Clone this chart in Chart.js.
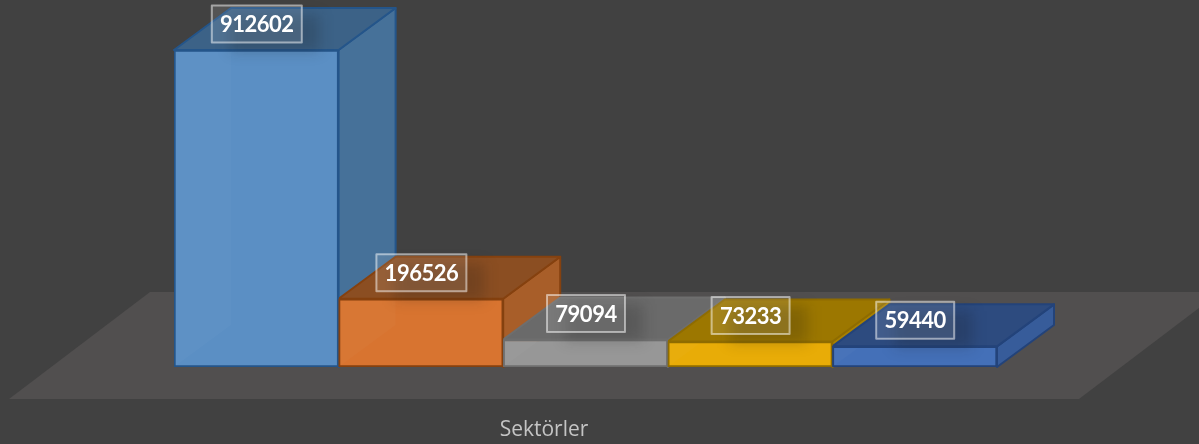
<!DOCTYPE html>
<html>
<head>
<meta charset="utf-8">
<title>Sektörler</title>
<script src="https://cdn.jsdelivr.net/npm/chart.js@4"></script>
<style>
  html, body { margin: 0; padding: 0; background: #414141; overflow: hidden; }
  canvas { display: block; }
</style>
</head>
<body>
<canvas id="chart" width="1199" height="444"></canvas>
<script>
// Data
const categories = ["1", "2", "3", "4", "5"];
const sectorValues = [912602, 196526, 79094, 73233, 59440];
const axisTitle = "Sektörler";

// Face colours per bar
const frontColors = ["#5B8FC4", "#D87430", "#979797", "#E8AC07", "#4470B8"];
const topColors = ["#3C6287", "#8B4E22", "#6A6A6A", "#9C7700", "#2D4B7F"];
const sideColors = ["#467199", "#A85E29", "#6A6A6A", "#A88000", "#375C9A"];
const edgeColors = ["#24558A", "#85410F", "#6E6E6E", "#8F6C00", "#23437A"];

// Oblique projection of the 3D look
const depthX = 57;
const depthY = 42;

function poly(ctx, pts, fill, stroke) {
  ctx.beginPath();
  pts.forEach((p, i) => (i ? ctx.lineTo(p[0], p[1]) : ctx.moveTo(p[0], p[1])));
  ctx.closePath();
  if (fill) {
    ctx.fillStyle = fill;
    ctx.fill();
  }
  if (stroke) {
    ctx.strokeStyle = stroke;
    ctx.lineWidth = 2;
    ctx.lineJoin = "round";
    ctx.stroke();
  }
}

const box3d = {
  id: "box3d",
  beforeDatasetsDraw(chart) {
    const ctx = chart.ctx;
    const { left, right, bottom } = chart.chartArea;
    // Floor plane, follows the plot area
    poly(ctx, [
      [left - 165, bottom + 32],
      [right + 82, bottom + 32],
      [right + 223, bottom - 75],
      [left - 24, bottom - 75],
    ], "#514F4F");
    // Axis title sits under the floor's front edge
    ctx.fillStyle = "#C4C4C4";
    ctx.font = "21px 'Open Sans'";
    ctx.textAlign = "center";
    ctx.textBaseline = "middle";
    ctx.fillText(axisTitle, (left - 165 + right + 82) / 2, bottom + 63);
    // Top and side faces
    chart.getDatasetMeta(0).data.forEach((bar, i) => {
      const l = bar.x - bar.width / 2;
      const r = bar.x + bar.width / 2;
      poly(ctx, [
        [r, bar.y],
        [r + depthX, bar.y - depthY],
        [r + depthX, bar.base - depthY],
        [r, bar.base],
      ], sideColors[i], edgeColors[i]);
      poly(ctx, [
        [l, bar.y],
        [l + depthX, bar.y - depthY],
        [r + depthX, bar.y - depthY],
        [r, bar.y],
      ], topColors[i], edgeColors[i]);
    });
  },
  afterDatasetsDraw(chart) {
    const ctx = chart.ctx;
    const bars = chart.getDatasetMeta(0).data;
    // Inner walls showing through the front face
    bars.forEach((bar) => {
      const l = bar.x - bar.width / 2;
      ctx.save();
      ctx.beginPath();
      ctx.rect(l + 2, bar.y + 2, bar.width - 4, bar.base - bar.y - 4);
      ctx.clip();
      poly(ctx, [
        [l, bar.base],
        [l + depthX, bar.base - depthY],
        [l + depthX, bar.y - depthY],
        [l, bar.y - depthY],
      ], "rgba(255,255,255,0.025)");
      ctx.restore();
    });
    // Value labels
    ctx.font = "bold 22px Lato";
    ctx.letterSpacing = "-0.5px";
    ctx.textAlign = "center";
    ctx.textBaseline = "middle";
    bars.forEach((bar, i) => {
      const text = String(sectorValues[i]);
      const w = text.length > 5 ? 90 : 78;
      const h = 37;
      const cy = bar.y - 26;
      const bx = bar.x - w / 2 + 0.5;
      const by = cy - h / 2;
      ctx.save();
      ctx.filter = "blur(7px)";
      ctx.fillStyle = "rgba(20,20,20,0.2)";
      ctx.fillRect(bx + 18, by + 9, w, h);
      ctx.restore();
      ctx.fillStyle = "rgba(255,255,255,0.1)";
      ctx.fillRect(bx, by, w, h);
      ctx.strokeStyle = "rgba(255,255,255,0.5)";
      ctx.lineWidth = 2;
      ctx.strokeRect(bx, by, w, h);
      ctx.fillStyle = "#FFFFFF";
      ctx.fillText(text, bar.x + 0.5, cy + 1);
    });
  },
};

new Chart(document.getElementById("chart"), {
  type: "bar",
  data: {
    labels: categories,
    datasets: [
      {
        label: axisTitle,
        data: sectorValues,
        backgroundColor: frontColors,
        borderColor: edgeColors,
        borderWidth: 2,
        borderSkipped: false,
        barPercentage: 1,
        categoryPercentage: 1,
      },
    ],
  },
  options: {
    responsive: false,
    animation: false,
    layout: { padding: { left: 174, right: 202, top: 50, bottom: 77 } },
    scales: {
      x: { display: false },
      y: { display: false, min: 0, max: 912602 },
    },
    plugins: {
      legend: { display: false },
      tooltip: { enabled: false },
    },
  },
  plugins: [box3d],
});
</script>
</body>
</html>
